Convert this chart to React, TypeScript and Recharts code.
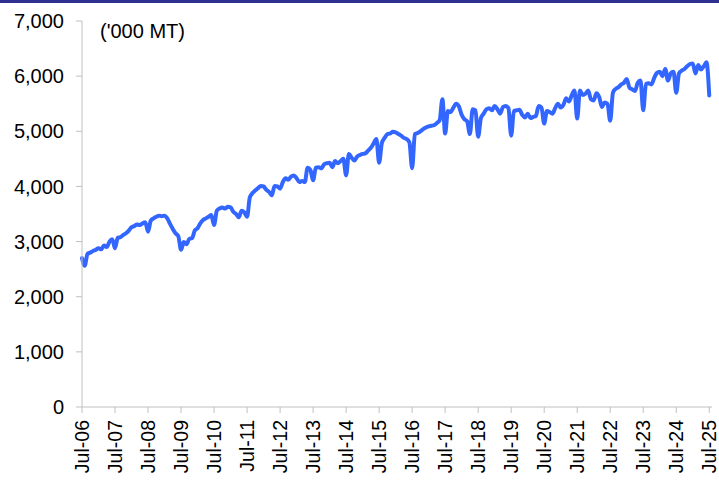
import React from 'react';
import { LineChart, Line, XAxis, YAxis } from 'recharts';

// monthly volume, '000 MT, Jul to Jun of each year
const y2006 = [2700, 2560, 2780, 2800, 2830, 2850, 2880, 2860, 2930, 2900, 3000, 3040];
const y2007 = [2880, 3070, 3080, 3120, 3150, 3200, 3260, 3280, 3310, 3300, 3330, 3350];
const y2008 = [3180, 3380, 3420, 3450, 3470, 3460, 3470, 3420, 3320, 3230, 3150, 3100];
const y2009 = [2850, 2990, 2950, 3050, 3060, 3200, 3240, 3330, 3390, 3420, 3450, 3480];
const y2010 = [3300, 3560, 3600, 3620, 3600, 3630, 3620, 3540, 3500, 3440, 3560, 3530];
const y2011 = [3450, 3800, 3880, 3930, 3970, 4010, 4000, 3940, 3900, 3840, 4010, 4000];
const y2012 = [3960, 4080, 4150, 4120, 4180, 4200, 4150, 4080, 4100, 4080, 4340, 4300];
const y2013 = [4110, 4340, 4350, 4330, 4400, 4420, 4430, 4350, 4460, 4420, 4460, 4500];
const y2014 = [4200, 4590, 4520, 4470, 4540, 4570, 4590, 4600, 4650, 4700, 4780, 4860];
const y2015 = [4430, 4790, 4880, 4950, 4960, 4990, 4980, 4950, 4920, 4880, 4860, 4800];
const y2016 = [4330, 4950, 4970, 5000, 5040, 5070, 5090, 5100, 5110, 5150, 5200, 5580];
const y2017 = [4960, 5370, 5350, 5430, 5500, 5450, 5300, 5220, 5180, 4950, 5400, 5380];
const y2018 = [4900, 5240, 5320, 5400, 5420, 5380, 5460, 5400, 5320, 5440, 5460, 5420];
const y2019 = [4920, 5370, 5380, 5390, 5300, 5250, 5320, 5240, 5260, 5280, 5460, 5430];
const y2020 = [5140, 5370, 5350, 5320, 5420, 5500, 5430, 5480, 5600, 5540, 5650, 5740];
const y2021 = [5230, 5740, 5660, 5680, 5740, 5580, 5560, 5690, 5620, 5440, 5520, 5500];
const y2022 = [5190, 5700, 5770, 5800, 5850, 5880, 5950, 5790, 5760, 5730, 5880, 5920];
const y2023 = [5380, 5860, 5870, 5850, 5970, 6060, 6080, 6000, 6130, 5920, 6050, 6080];
const y2024 = [5700, 6050, 6100, 6130, 6180, 6220, 6230, 6050, 6200, 6120, 6180, 6250];
const y2025 = [5650];

const values = [
  ...y2006, ...y2007, ...y2008, ...y2009, ...y2010, ...y2011, ...y2012,
  ...y2013, ...y2014, ...y2015, ...y2016, ...y2017, ...y2018, ...y2019,
  ...y2020, ...y2021, ...y2022, ...y2023, ...y2024, ...y2025,
];

const tickLabels = [
  'Jul-06', 'Jul-07', 'Jul-08', 'Jul-09', 'Jul-10', 'Jul-11', 'Jul-12',
  'Jul-13', 'Jul-14', 'Jul-15', 'Jul-16', 'Jul-17', 'Jul-18', 'Jul-19',
  'Jul-20', 'Jul-21', 'Jul-22', 'Jul-23', 'Jul-24', 'Jul-25',
];

const yTicks = [0, 1000, 2000, 3000, 4000, 5000, 6000, 7000];

const data = values.map((v, i) => ({ i, v }));
const xTicks = tickLabels.map((_, k) => k * 12);

const FONT = 'Arial, "Liberation Sans", sans-serif';
const AXIS = '#c0c0c0';

const XTick = (props: any) => {
  const { x, y, payload } = props;
  return (
    <g transform={`translate(${x},${y})`}>
      <text
        transform="rotate(-90)"
        textAnchor="end"
        dy="0.36em"
        fontSize={19.5}
        fontFamily={FONT}
        fill="#000"
      >
        {tickLabels[payload.value / 12]}
      </text>
    </g>
  );
};

const App: React.FC = () => {
  return (
    <div style={{ position: 'absolute', left: 0, top: 0, width: 719, height: 483, background: '#fff' }}>
      <div style={{ position: 'absolute', left: 0, top: 0, width: 719, height: 3, background: '#2e3192' }} />
      <LineChart width={719} height={483} data={data} margin={{ top: 21, right: 7, left: 0, bottom: 0 }}>
        <XAxis
          dataKey="i"
          type="number"
          domain={[0, 229]}
          ticks={xTicks}
          interval={0}
          height={76}
          tick={<XTick />}
          tickSize={6}
          tickMargin={7}
          stroke={AXIS}
        />
        <YAxis
          domain={[0, 7000]}
          ticks={yTicks}
          interval={0}
          width={82}
          tickSize={6}
          tickMargin={12}
          stroke={AXIS}
          tick={{ fill: '#000', fontSize: 20, fontFamily: FONT }}
          tickFormatter={(v: number) => v.toLocaleString('en-US')}
        />
        <Line
          type="monotone"
          dataKey="v"
          stroke="#3366ff"
          strokeWidth={4}
          strokeLinejoin="round"
          strokeLinecap="round"
          dot={false}
          isAnimationActive={false}
        />
        <text x={100} y={38} fontSize={20} fontFamily={FONT} fill="#000">('000 MT)</text>
      </LineChart>
    </div>
  );
};

export default App;
